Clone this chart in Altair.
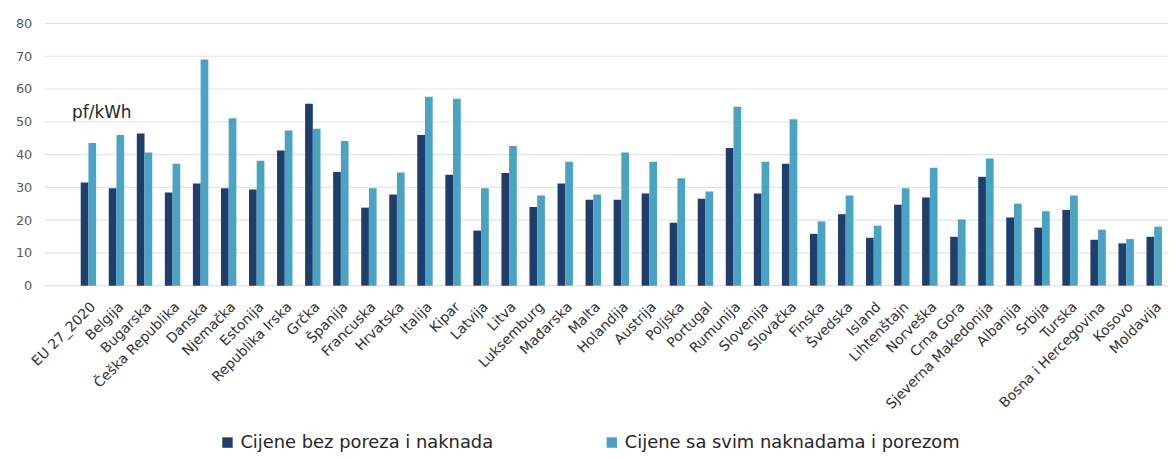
import altair as alt
import pandas as pd

countries = ["EU 27_2020", "Belgija", "Bugarska", "Češka Republika", "Danska", "Njemačka",
             "Estonija", "Republika Irska", "Grčka", "Španija", "Francuska", "Hrvatska",
             "Italija", "Kipar", "Latvija", "Litva", "Luksemburg", "Mađarska", "Malta",
             "Holandija", "Austrija", "Poljska", "Portugal", "Rumunija", "Slovenija",
             "Slovačka", "Finska", "Švedska", "Island", "Lihtenštajn", "Norveška",
             "Crna Gora", "Sjeverna Makedonija", "Albanija", "Srbija", "Turska",
             "Bosna i Hercegovina", "Kosovo", "Moldavija"]

bez_poreza = [31.5, 29.7, 46.4, 28.4, 31.2, 29.7, 29.3, 41.2, 55.5, 34.7, 23.8, 27.8,
              46.0, 33.8, 16.8, 34.4, 24.0, 31.2, 26.2, 26.2, 28.1, 19.2, 26.5, 42.0,
              28.1, 37.2, 15.8, 21.8, 14.6, 24.7, 26.9, 14.9, 33.2, 20.8, 17.7, 23.1,
              14.0, 12.9, 14.9]

sa_porezom = [43.5, 46.0, 40.6, 37.2, 69.0, 51.1, 38.1, 47.3, 47.9, 44.1, 29.7, 34.5,
              57.6, 57.0, 29.7, 42.6, 27.5, 37.8, 27.8, 40.6, 37.8, 32.8, 28.7, 54.6,
              37.8, 50.8, 19.6, 27.5, 18.3, 29.7, 36.0, 20.2, 38.8, 25.0, 22.7, 27.5,
              17.1, 14.2, 18.0]

y_ticks = [0, 10, 20, 30, 40, 50, 60, 70, 80]

series = ["Cijene bez poreza i naknada", "Cijene sa svim naknadama i porezom"]
colors = ["#1F3E6B", "#4AA3C2"]

rows = []
for c, a, b in zip(countries, bez_poreza, sa_porezom):
    rows.append({"zemlja": c, "serija": series[0], "vrijednost": a})
    rows.append({"zemlja": c, "serija": series[1], "vrijednost": b})
df = pd.DataFrame(rows)
grid_df = pd.DataFrame({"vrijednost": y_ticks})

W = 1131
H = 264
FONT = "DejaVu Sans"

y_scale = alt.Scale(domain=[0, 80], nice=False)
y_axis = alt.Axis(values=y_ticks, title="pf/kWh", grid=False,
                  titleAngle=0, titleX=27, titleY=90, titleAlign="left",
                  titleBaseline="middle", titleFontSize=17, titleFontWeight="normal",
                  titleColor="#262626", titleFont=FONT,
                  labelFontSize=13, labelColor="#595959", labelFont=FONT,
                  labelPadding=13, ticks=False, domain=False)

grid = alt.Chart(grid_df).mark_rule(color="#E3E3E3", strokeWidth=1.2).encode(
    y=alt.Y("vrijednost:Q", scale=y_scale, axis=y_axis),
    x=alt.value(0),
    x2=alt.value(W),
)

bars = alt.Chart(df).mark_bar().encode(
    x=alt.X("zemlja:N", sort=countries,
            scale=alt.Scale(paddingInner=0.45, paddingOuter=0.5, range=[22.1, 1139.0]),
            axis=alt.Axis(title=None, labelAngle=-45, labelFontSize=14,
                          labelColor="#333333", labelFont=FONT,
                          ticks=False, domain=False, labelPadding=14, labelOverlap=False)),
    xOffset=alt.XOffset("serija:N", sort=series),
    y=alt.Y("vrijednost:Q", scale=y_scale, axis=y_axis),
    color=alt.Color("serija:N", sort=series,
                    scale=alt.Scale(domain=series, range=colors),
                    legend=alt.Legend(title=None, orient="none", direction="horizontal",
                                      legendX=175, legendY=413,
                                      symbolType="square", symbolSize=110,
                                      symbolStrokeWidth=0, symbolOpacity=1,
                                      labelFontSize=18, labelColor="#262626",
                                      labelFont=FONT, columnPadding=110,
                                      labelOffset=4, labelLimit=500)),
)

chart = alt.layer(grid, bars).properties(
    width=W, height=H,
    autosize=alt.AutoSizeParams(type="none"),
    padding={"left": 37, "top": 14, "right": 0, "bottom": 173},
).configure_view(stroke=None)

chart.save("out.html", embed_options={"renderer": "svg", "actions": False})
